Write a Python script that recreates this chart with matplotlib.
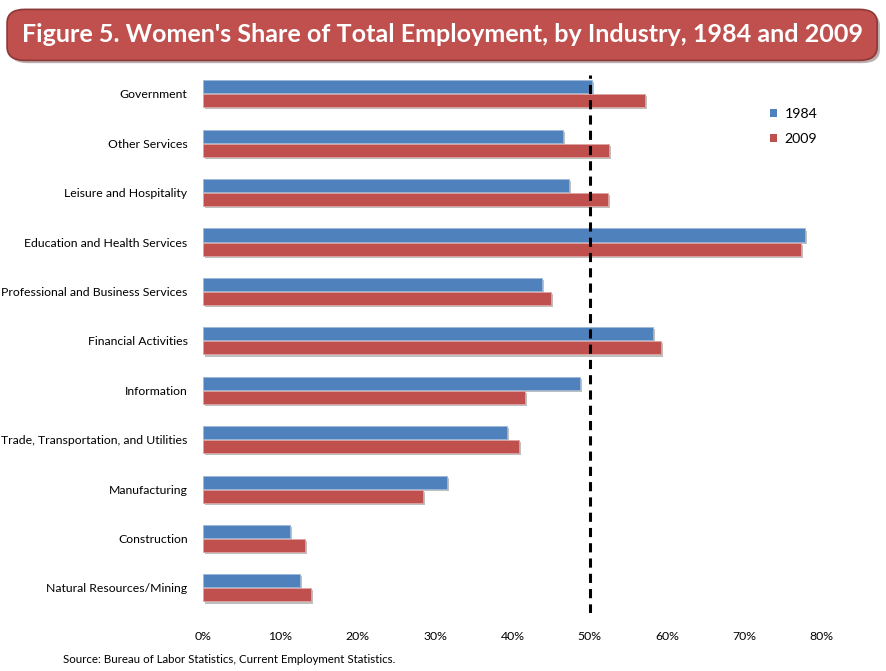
import numpy as np
import matplotlib
matplotlib.use("Agg")
import matplotlib.pyplot as plt
import matplotlib.patheffects as pe
from matplotlib.patches import FancyBboxPatch, Patch
from matplotlib.ticker import PercentFormatter

# industries, top to bottom as in the chart
industries = [
    "Government",
    "Other Services",
    "Leisure and Hospitality",
    "Education and Health Services",
    "Professional and Business Services",
    "Financial Activities",
    "Information",
    "Trade, Transportation, and Utilities",
    "Manufacturing",
    "Construction",
    "Natural Resources/Mining",
]
share_1984 = [50.3, 46.5, 47.3, 77.8, 43.8, 58.2, 48.7, 39.3, 31.5, 11.2, 12.5]
share_2009 = [57.1, 52.5, 52.3, 77.3, 45.0, 59.2, 41.6, 40.8, 28.4, 13.2, 14.0]
x_ticks = [0, 10, 20, 30, 40, 50, 60, 70, 80]
parity = 50

blue = "#4F81BD"
red = "#C0504D"

plt.rcParams["font.family"] = ["Lato", "DejaVu Sans"]

fig = plt.figure(figsize=(8.86, 6.71), dpi=100)

# title banner
banner = FancyBboxPatch((0.008, 0.91), 0.982, 0.076,
                        boxstyle="round,pad=0,rounding_size=0.02",
                        transform=fig.transFigure, facecolor=red,
                        edgecolor="#8C3836", linewidth=1.2,
                        path_effects=[pe.SimplePatchShadow(offset=(2, -2), alpha=0.35),
                                      pe.Normal()])
fig.patches.append(banner)
fig.text(0.5, 0.948, "Figure 5. Women's Share of Total Employment, by Industry, 1984 and 2009",
         ha="center", va="center", color="white", fontsize=18.1, fontweight="bold")

ax = fig.add_axes([0.229, 0.087, 0.6986, 0.81])

y = np.arange(len(industries))
h = 0.265
off = 0.142
shadow = [pe.SimplePatchShadow(offset=(1.5, -1.5), shadow_rgbFace="#808080", alpha=0.5),
          pe.Normal()]
b1 = ax.barh(y - off, share_1984, height=h, color=blue, edgecolor="#9DB7DA",
             linewidth=0.6, label="1984")
b2 = ax.barh(y + off, share_2009, height=h, color=red, edgecolor="#DDA4A2",
             linewidth=0.6, label="2009")
for bar in list(b1) + list(b2):
    bar.set_path_effects(shadow)

ax.axvline(parity, ymin=0.0, ymax=0.99, color="black", linestyle=(0, (3, 2)), linewidth=2.2)

ax.set_ylim(len(industries) - 0.5, -0.5)
ax.set_xlim(0, 80)
ax.set_yticks(y)
ax.set_yticklabels(industries, fontsize=8.8)
ax.set_xticks(x_ticks)
ax.xaxis.set_major_formatter(PercentFormatter(decimals=0))
ax.tick_params(axis="x", labelsize=8.8, length=0, pad=13)
ax.tick_params(axis="y", length=0, pad=11)
for s in ax.spines.values():
    s.set_visible(False)

handles = [Patch(facecolor=blue), Patch(facecolor=red)]
fig.legend(handles=handles, labels=["1984", "2009"], loc="upper left",
           bbox_to_anchor=(0.855, 0.858), frameon=False, fontsize=10.2,
           handlelength=0.5, handleheight=0.5, handletextpad=0.5, labelspacing=0.95)

fig.text(0.071, 0.017, "Source: Bureau of Labor Statistics, Current Employment Statistics.",
         fontsize=8.3, ha="left", va="center")

fig.savefig("out.png", dpi=100)
